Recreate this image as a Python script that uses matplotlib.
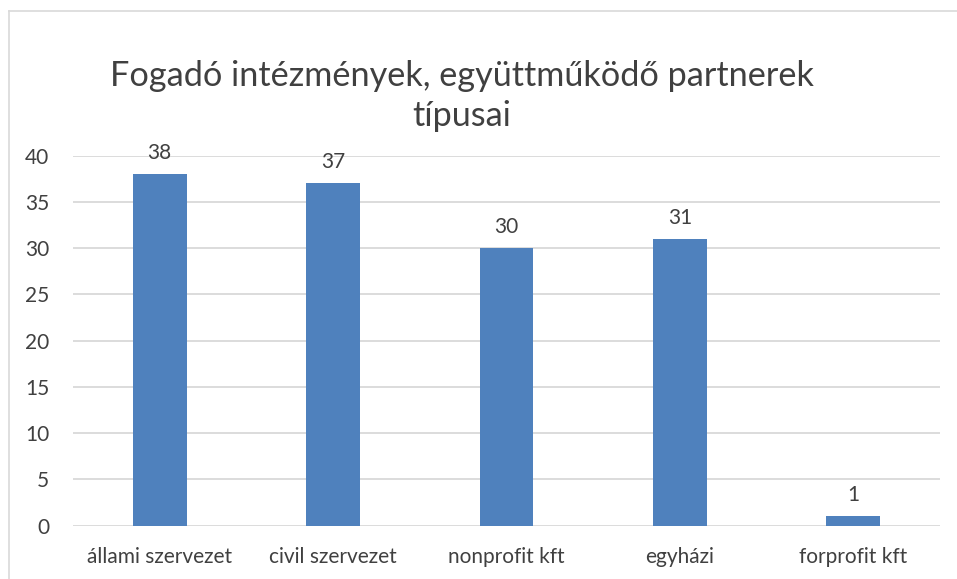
import matplotlib.pyplot as plt
from matplotlib.lines import Line2D

categories = ['állami szervezet', 'civil szervezet', 'nonprofit kft', 'egyházi', 'forprofit kft']
values = [38, 37, 30, 31, 1]
yticks = [0, 5, 10, 15, 20, 25, 30, 35, 40]
title = 'Fogadó intézmények, együttműködő partnerek\ntípusai'

text_col = '#404040'
grid_col = '#d9d9d9'
bar_col = '#4f81bd'

plt.rcParams['font.family'] = ['Lato', 'DejaVu Sans']

W, H = 957, 579
fig = plt.figure(figsize=(W / 100, H / 100), dpi=100)
ax = fig.add_axes([73 / W, 1 - 525.7 / H, (940 - 73) / W, (525.7 - 155.5) / H])

x = range(len(categories))
bars = ax.bar(x, values, width=0.31, color=bar_col, zorder=3)
for b, v in zip(bars, values):
    ax.annotate(str(v), (b.get_x() + b.get_width() / 2, v), xytext=(0, 8),
                textcoords='offset points', ha='center', va='bottom',
                fontsize=15, color=text_col)

ax.set_xlim(-0.5, len(categories) - 0.5)
ax.set_ylim(0, 40)
ax.set_yticks(yticks)
ax.set_xticks(list(x))
ax.set_xticklabels(categories)
ax.tick_params(axis='both', length=0, labelsize=15, labelcolor=text_col)
ax.tick_params(axis='y', pad=17)
ax.tick_params(axis='x', pad=15)
ax.grid(axis='y', color=grid_col, linewidth=1.3, zorder=0)
for s in ax.spines.values():
    s.set_visible(False)

fig.text(462 / W, 1 - 96 / H, title, ha='center', va='center',
         fontsize=24.7, color=text_col, linespacing=1.3)

# chart frame (only left and top edges are inside the picture)
fig.add_artist(Line2D([9 / W, 9 / W], [0, 1 - 11 / H], color=grid_col, linewidth=1.2))
fig.add_artist(Line2D([9 / W, 1], [1 - 11 / H, 1 - 11 / H], color=grid_col, linewidth=1.2))

fig.savefig('out.png', dpi=100)
